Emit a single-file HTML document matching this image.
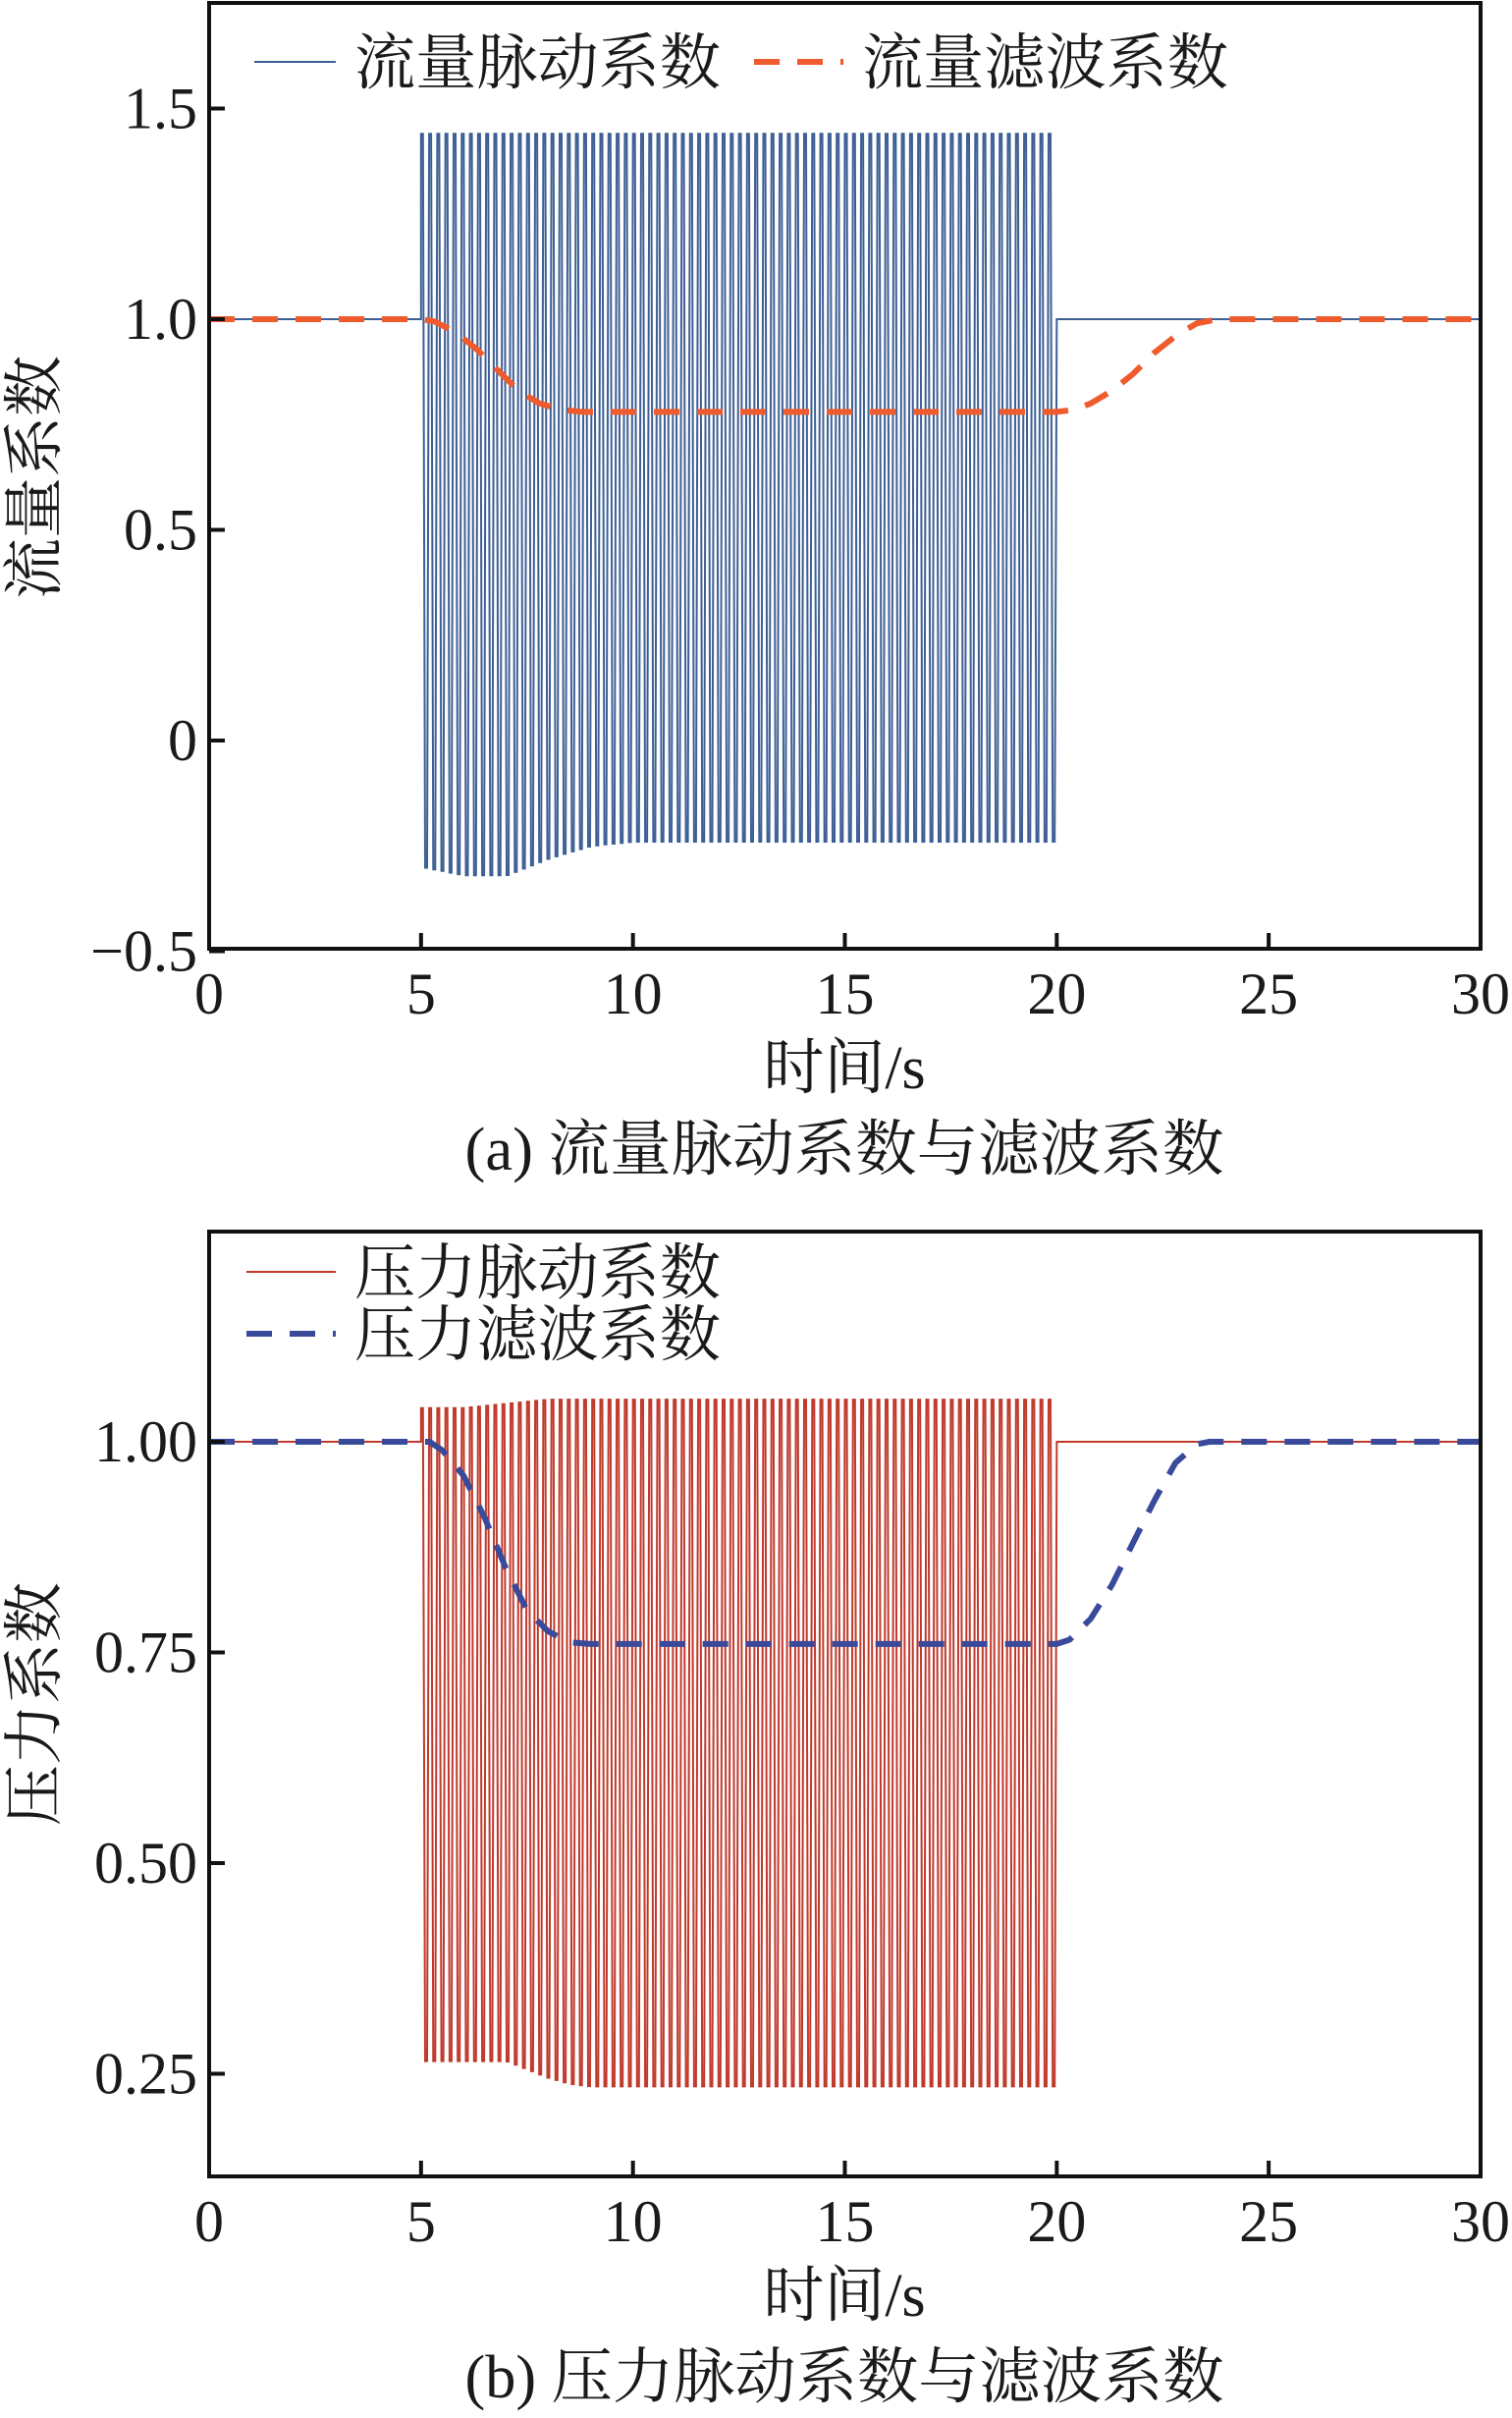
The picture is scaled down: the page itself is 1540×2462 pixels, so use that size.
<!DOCTYPE html>
<html><head><meta charset="utf-8"><style>
html,body{margin:0;padding:0;background:#fff;}
svg{display:block;}
text{font-family:"Liberation Serif","Noto Serif CJK SC","Noto Sans CJK SC",serif;fill:#1a1a1a;}
</style></head><body>
<svg id="chart" width="1540" height="2462" viewBox="0 0 1540 2462" xmlns="http://www.w3.org/2000/svg"></svg>
<script>
// ---- data ----
const xTicks = [0,5,10,15,20,25,30];
const aYTicks = [1.5,1.0,0.5,0,-0.5];
const aYTickLabels = ["1.5","1.0","0.5","0","\u22120.5"];
const bYTicks = [1.00,0.75,0.50,0.25];
const bYTickLabels = ["1.00","0.75","0.50","0.25"];
const pulseFreq = [5.2];
const pulseStart = [5];
const pulseEnd = [20];
const flowEnvT = [5,6,7,8,9,10,20];
const flowEnvMax = [1.44,1.44,1.44,1.44,1.44,1.44,1.44];
const flowEnvMin = [-0.30,-0.32,-0.32,-0.28,-0.25,-0.24,-0.24];
const flowFilterT = [0,5,5.3,5.8,6.3,6.8,7.3,7.8,8.3,8.8,9.3,20,20.4,20.8,21.3,21.8,22.3,22.8,23.3,23.8,30];
const flowFilterV = [1,1,0.995,0.97,0.93,0.88,0.83,0.80,0.785,0.78,0.78,0.78,0.785,0.80,0.83,0.87,0.92,0.96,0.99,1.0,1.0];
const presEnvT = [5,6,7,8,8.5,9,20];
const presEnvMax = [1.04,1.04,1.045,1.05,1.05,1.05,1.05];
const presEnvMin = [0.265,0.265,0.265,0.245,0.238,0.235,0.235];
const presFilterT = [0,5.2,5.5,6,6.5,7,7.5,8,8.5,9,20,20.3,20.8,21.3,21.8,22.3,22.8,23.3,23.6,30];
const presFilterV = [1,1,0.99,0.96,0.91,0.85,0.80,0.775,0.762,0.76,0.76,0.765,0.79,0.83,0.88,0.93,0.975,0.997,1.0,1.0];

const NS="http://www.w3.org/2000/svg";
const svg=document.getElementById('chart');
function mk(tag,attrs,parent){const e=document.createElementNS(NS,tag);for(const k in attrs)e.setAttribute(k,attrs[k]);(parent||svg).appendChild(e);return e;}
function interp(T,V,t){if(t<=T[0])return V[0];for(let i=1;i<T.length;i++){if(t<=T[i]){const f=(t-T[i-1])/(T[i]-T[i-1]);return V[i-1]+f*(V[i]-V[i-1]);}}return V[V.length-1];}
const L=213,R=1508;
function xs(t){return L+t*(R-L)/30;}

function panel(cfg){
  const g=mk('g',{});
  
  
  let d='M'+xs(0)+','+cfg.y(1)+' L'+xs(pulseStart[0])+','+cfg.y(1);
  const n=Math.round((pulseEnd[0]-pulseStart[0])*pulseFreq[0]);
  for(let k=0;k<n;k++){
    const t0=pulseStart[0]+k/pulseFreq[0];
    const t1=t0+0.5/pulseFreq[0];
    d+=' L'+xs(t0).toFixed(1)+','+cfg.y(interp(cfg.envT,cfg.envMax,t0)).toFixed(1);
    d+=' L'+(xs(t0)+2).toFixed(1)+','+cfg.y(interp(cfg.envT,cfg.envMax,t0)).toFixed(1);
    d+=' L'+xs(t1).toFixed(1)+','+cfg.y(interp(cfg.envT,cfg.envMin,t1)).toFixed(1);
    d+=' L'+(xs(t1)+2).toFixed(1)+','+cfg.y(interp(cfg.envT,cfg.envMin,t1)).toFixed(1);
  }
  d+=' L'+xs(pulseEnd[0])+','+cfg.y(1)+' L'+xs(30)+','+cfg.y(1);
  const p=mk('path',{d:d,fill:'none',stroke:cfg.pulseColor,'stroke-width':2},g);
  
  
  let fd='';
  cfg.fT.forEach((t,i)=>{fd+=(i?' L':'M')+xs(t).toFixed(1)+','+cfg.y(cfg.fV[i]).toFixed(1);});
  const f=mk('path',{d:fd,fill:'none',stroke:cfg.filterColor,'stroke-width':6,'stroke-dasharray':'26,18'},g);
  
  
  const fr=mk('rect',{x:L,y:cfg.top,width:R-L,height:cfg.bottom-cfg.top,fill:'none',stroke:'#111','stroke-width':4},g);
  
  
  xTicks.forEach(t=>{
    const tk=mk('line',{x1:xs(t),x2:xs(t),y1:cfg.bottom,y2:cfg.bottom-16,stroke:'#111','stroke-width':4},g);
    
    
    const tl=mk('text',{x:xs(t),y:cfg.bottom+66,'font-size':60,'text-anchor':'middle'},g);
    tl.textContent=t;
    
    
  });
  cfg.yTicks.forEach((v,i)=>{
    const tk=mk('line',{x1:L,x2:L+16,y1:cfg.y(v),y2:cfg.y(v),stroke:'#111','stroke-width':4},g);
    
    
    const tl=mk('text',{x:L-12,y:cfg.y(v)+20,'font-size':60,'text-anchor':'end'},g);
    tl.textContent=cfg.yLabels[i];
    
    
  });
  const xt=mk('text',{x:860,y:cfg.bottom+142,'font-size':62,'text-anchor':'middle'},g);
  xt.textContent='时间/s';
  
  
  const yt=mk('text',{x:0,y:0,'font-size':62,'text-anchor':'middle',transform:'translate(56,'+cfg.yTitleY+') rotate(-90)'},g);
  yt.textContent=cfg.yTitle;
  
  
  const cap=mk('text',{x:860,y:cfg.bottom+225,'font-size':62,'text-anchor':'middle',textLength:773,lengthAdjust:'spacingAndGlyphs'},g);
  cap.textContent=cfg.caption;
  
  
  cfg.legend.forEach(le=>{
    const lg=mk('g',{},g);
    
    
    mk('line',{x1:le.x1,x2:le.x2,y1:le.y,y2:le.y,stroke:le.color,'stroke-width':le.dash?6:2,'stroke-dasharray':le.dash?'26,18':'none'},lg);
    const tx=mk('text',{x:le.tx,y:le.y+22,'font-size':62,textLength:373,lengthAdjust:'spacingAndGlyphs'},lg);
    tx.textContent=le.label;
  });
}

panel({name:'flow-panel',top:3,bottom:966,y:v=>754-v*429,envT:flowEnvT,envMax:flowEnvMax,envMin:flowEnvMin,
  fT:flowFilterT,fV:flowFilterV,pulseColor:'#3d5f95',filterColor:'#ef5b2c',pulseName:'flow-pulsation-line',filterName:'flow-filter-line',
  yTicks:aYTicks,yLabels:aYTickLabels,yTitle:'流量系数',yTitleY:486,caption:'(a) 流量脉动系数与滤波系数',
  legend:[{x1:259,x2:342,y:63,color:'#3d5f95',dash:false,tx:361,label:'流量脉动系数'},
          {x1:768,x2:859,y:63,color:'#ef5b2c',dash:true,tx:878,label:'流量滤波系数'}]});
panel({name:'pressure-panel',top:1254,bottom:2216,y:v=>1468+(1-v)*858,envT:presEnvT,envMax:presEnvMax,envMin:presEnvMin,
  fT:presFilterT,fV:presFilterV,pulseColor:'#c0392b',filterColor:'#3a4a9a',pulseName:'pressure-pulsation-line',filterName:'pressure-filter-line',
  yTicks:bYTicks,yLabels:bYTickLabels,yTitle:'压力系数',yTitleY:1735,caption:'(b) 压力脉动系数与滤波系数',
  legend:[{x1:251,x2:342,y:1295,color:'#c0392b',dash:false,tx:361,label:'压力脉动系数'},
          {x1:251,x2:342,y:1358,color:'#3a4a9a',dash:true,tx:361,label:'压力滤波系数'}]});
</script>
</body></html>
